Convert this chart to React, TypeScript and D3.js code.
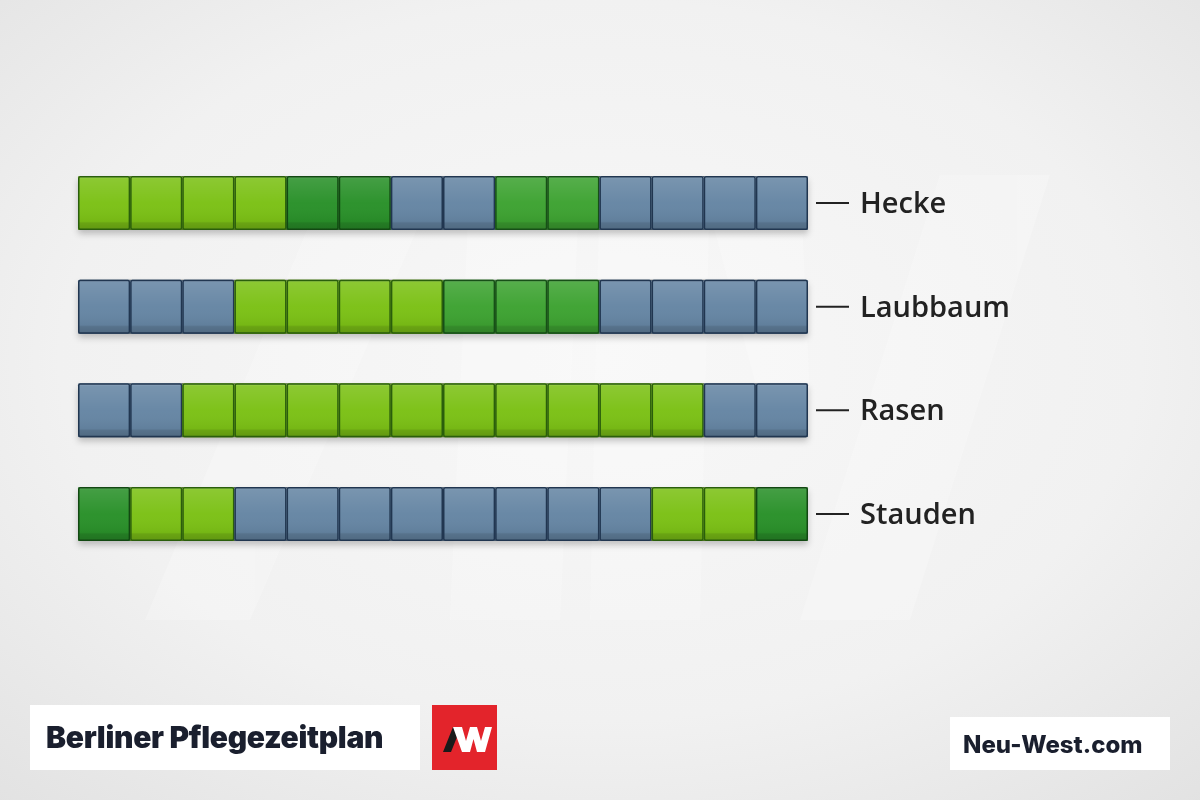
import React from "react";
import * as d3 from "d3";

const months = d3.range(14);
const plants = ["Hecke", "Laubbaum", "Rasen", "Stauden"];
// L = hellgrün, M = mittelgrün, D = dunkelgrün, B = blaugrau
const hecke = ["L", "L", "L", "L", "D", "D", "B", "B", "M", "M", "B", "B", "B", "B"];
const laubbaum = ["B", "B", "B", "L", "L", "L", "L", "M", "M", "M", "B", "B", "B", "B"];
const rasen = ["B", "B", "L", "L", "L", "L", "L", "L", "L", "L", "L", "L", "B", "B"];
const stauden = ["D", "L", "L", "B", "B", "B", "B", "B", "B", "B", "B", "L", "L", "D"];
const schedule = [hecke, laubbaum, rasen, stauden];

const fillColors: Record<string, string> = { L: "#7cc116", M: "#3ea332", D: "#2a912a", B: "#6686a4" };
const edgeColors: Record<string, string> = { L: "#2a5e0c", M: "#174f17", D: "#124812", B: "#213650" };

export default function App() {
  const W = 1200, H = 800;
  const x = d3.scaleBand<number>().domain(months).range([78, 808]).padding(0);
  const y = d3.scaleBand<string>().domain(plants).range([176, 541]).paddingInner(0.479).paddingOuter(0);
  const bw = x.bandwidth();
  const bh = y.bandwidth();

  return (
    <svg width={W} height={H} style={{ position: "fixed", left: 0, top: 0, display: "block" }}>
      <defs>
        <radialGradient id="bg" cx="50%" cy="45%" r="75%">
          <stop offset="0%" stopColor="#f8f8f8" />
          <stop offset="60%" stopColor="#f1f1f1" />
          <stop offset="100%" stopColor="#e2e2e2" />
        </radialGradient>
        <linearGradient id="bevel" x1="0" y1="0" x2="0" y2="1">
          <stop offset="0%" stopColor="#ffffff" stopOpacity="0.4" />
          <stop offset="5%" stopColor="#ffffff" stopOpacity="0.12" />
          <stop offset="50%" stopColor="#ffffff" stopOpacity="0.02" />
          <stop offset="84%" stopColor="#000000" stopOpacity="0.05" />
          <stop offset="87%" stopColor="#000000" stopOpacity="0.15" />
          <stop offset="100%" stopColor="#000000" stopOpacity="0.22" />
        </linearGradient>
        <filter id="shadow" x="-5%" y="-30%" width="110%" height="180%">
          <feDropShadow dx="0" dy="4" stdDeviation="3" floodColor="#000" floodOpacity="0.22" />
        </filter>
      </defs>
      <rect x={0} y={0} width={W} height={H} fill="url(#bg)" />

      {/* faint watermark */}
      <g fill="#ffffff" opacity={0.22}>
        <polygon points="330,175 440,175 250,620 145,620" />
        <polygon points="470,175 580,175 560,620 450,620" />
        <polygon points="600,175 710,175 700,620 590,620" />
        <polygon points="940,175 1050,175 910,620 800,620" />
        <polygon points="700,175 800,175 810,400 760,400" />
      </g>

      {schedule.map((row, ri) => {
        const y0 = y(plants[ri])!;
        return (
          <g key={plants[ri]}>
            <rect x={x(0)!} y={y0} width={x.range()[1] - x(0)!} height={bh} fill="#444" filter="url(#shadow)" rx={2} />
            {row.map((s, ci) => (
              <g key={ci}>
                <rect x={x(ci)!} y={y0} width={bw} height={bh} fill={fillColors[s]} rx={1.5} />
                <rect x={x(ci)!} y={y0} width={bw} height={bh} fill="url(#bevel)" rx={1.5} />
                <rect x={x(ci)! + 0.75} y={y0 + 0.75} width={bw - 1.5} height={bh - 1.5} fill="none"
                  stroke={edgeColors[s]} strokeWidth={1.5} rx={1.5} />
              </g>
            ))}
            <line x1={816} x2={849} y1={y0 + bh / 2} y2={y0 + bh / 2} stroke="#222" strokeWidth={2} />
            <text x={860} y={y0 + bh / 2 + 10} fontFamily="'Open Sans', sans-serif" fontWeight={600}
              fontSize={29} fill="#222">{plants[ri]}</text>
          </g>
        );
      })}

      {/* footer */}
      <rect x={30} y={705} width={390} height={65} fill="#ffffff" />
      <text x={46} y={748} fontFamily="Inter, sans-serif" fontWeight={900} fontSize={30} fill="#1a1f2e"
        letterSpacing={-0.3}>Berliner Pflegezeitplan</text>

      <rect x={432} y={705} width={65} height={65} fill="#e3242b" />
      <polygon points="443,752 451,752 461,727 453,727" fill="#1a1a1a" />
      <path d="M453,727 L462,727 L466,741 L470,727 L477,727 L481,741 L485,727 L492,727 L485,752 L477,752 L473.5,739 L470,752 L462,752 Z"
        fill="#ffffff" />

      <rect x={950} y={717} width={220} height={53} fill="#ffffff" />
      <text x={963} y={753} fontFamily="Inter, sans-serif" fontWeight={800} fontSize={24} fill="#1a1f2e">Neu-West.com</text>
    </svg>
  );
}
